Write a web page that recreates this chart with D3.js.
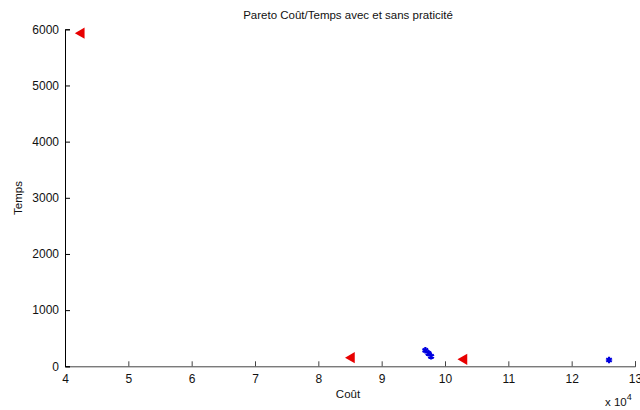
<!DOCTYPE html>
<html><head><meta charset="utf-8">
<script src="https://cdn.jsdelivr.net/npm/d3@7"></script>
<style>body{margin:0;background:#fff}svg{display:block}text{font-family:"Liberation Sans",Arial,sans-serif;fill:#111}</style>
</head><body><svg id="c" width="640" height="410"></svg>
<script>
const xTicks = [40000,50000,60000,70000,80000,90000,100000,110000,120000,130000];
const yTicks = [0,1000,2000,3000,4000,5000,6000];
// "avec praticité" (red triangles)
const redCost = [42580, 85240, 103000];
const redTime = [5930, 153, 125];
// "sans praticité" (blue stars)
const blueCost = [96900, 97400, 97800, 125900];
const blueTime = [285, 231, 178, 112];

const svg = d3.select("#c");
const L=65, R=635, T=29.3, B=366.3;
const x = d3.scaleLinear().domain([40000,130000]).range([L,R]);
const y = d3.scaleLinear().domain([0,6000]).range([B,T]);

const xa = svg.append("g").attr("transform",`translate(0,${B})`)
  .call(d3.axisBottom(x).tickValues(xTicks).tickSize(-5).tickPadding(8).tickFormat(d=>d/10000));
xa.select(".domain").attr("stroke","#444");
xa.selectAll(".tick line").attr("stroke","#444");
xa.selectAll("text").attr("font-size",12).attr("font-family","Liberation Sans, Arial, sans-serif").attr("fill","#111");

const ya = svg.append("g").attr("transform",`translate(${L},0)`)
  .call(d3.axisLeft(y).tickValues(yTicks).tickSize(-5).tickPadding(6).tickFormat(d3.format("d")));
ya.select(".domain").attr("stroke","#000");
ya.selectAll("text").attr("font-size",12).attr("font-family","Liberation Sans, Arial, sans-serif").attr("fill","#111");

svg.append("text").attr("x",348).attr("y",19).attr("text-anchor","middle").attr("font-size",11.5)
  .text("Pareto Coût/Temps avec et sans praticité");
svg.append("text").attr("x",348).attr("y",398).attr("text-anchor","middle").attr("font-size",11.5).text("Coût");
svg.append("text").attr("transform","translate(22,198) rotate(-90)").attr("text-anchor","middle").attr("font-size",11.5).text("Temps");
const xe = svg.append("text").attr("x",605).attr("y",406).attr("font-size",11.5);
xe.append("tspan").text("x 10");
xe.append("tspan").attr("dy",-6).attr("font-size",9).text("4");

const tri = d3.symbol().type(d3.symbolTriangle).size(55);
svg.append("g").selectAll("path").data(redCost).join("path")
  .attr("d",tri)
  .attr("transform",(d,i)=>`translate(${x(d)},${y(redTime[i])}) rotate(-90)`)
  .attr("fill","#e80000");

const star = d3.symbol().type(d3.symbolAsterisk).size(30);
svg.append("g").selectAll("path").data(blueCost).join("path")
  .attr("d",star)
  .attr("transform",(d,i)=>`translate(${x(d)},${y(blueTime[i])})`)
  .attr("fill","none").attr("stroke","#0000e0").attr("stroke-width",2.2);
</script></body></html>
